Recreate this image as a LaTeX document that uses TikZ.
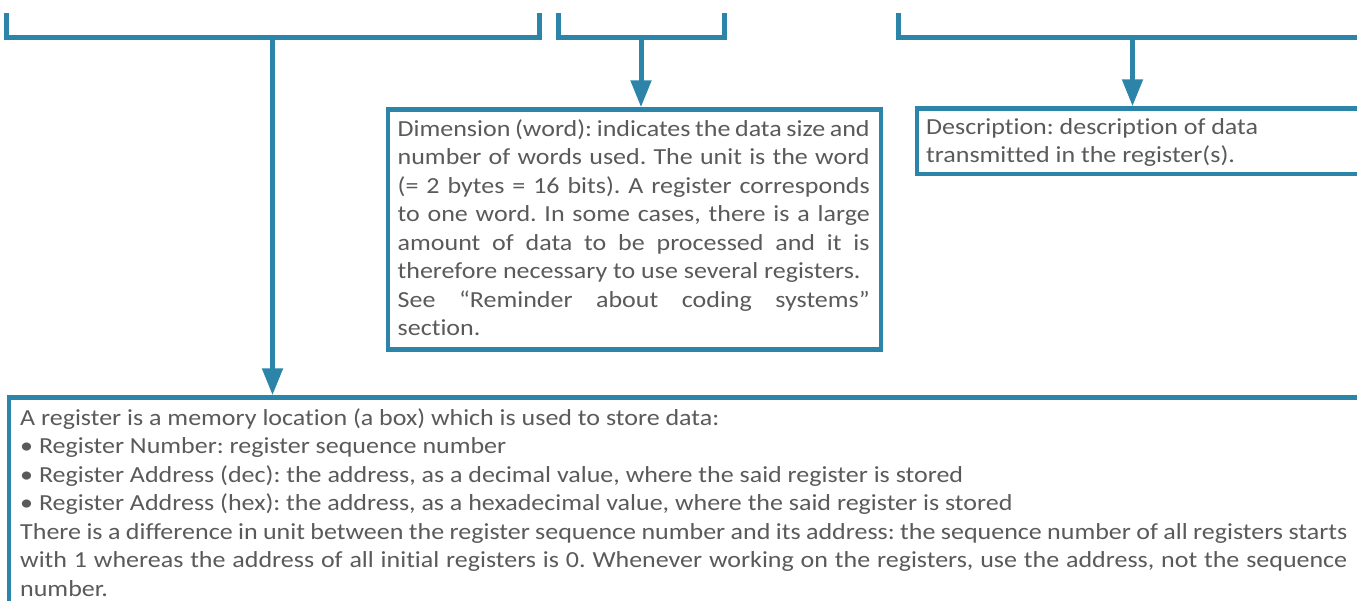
\documentclass[tikz,border=0pt]{standalone}
\usepackage{fontspec}
\setmainfont[FakeStretch=1.13,Ligatures=NoCommon]{Carlito}
\usetikzlibrary{arrows.meta}
\definecolor{lineblue}{HTML}{2C84A9}
\definecolor{txtgray}{HTML}{5A5A5C}
\begin{document}
\frenchspacing
\begin{tikzpicture}[x=1pt,y=-1pt,
  bracket/.style={draw=lineblue,line width=5pt},
  arr/.style={draw=lineblue,line width=5pt,-{Triangle[width=20pt,length=27pt]}},
  box/.style={draw=lineblue,line width=4.5pt,inner sep=0pt,anchor=north west},
  txt/.style={text=txtgray,inner sep=0pt,anchor=base west,font=\fontsize{23}{28.5}\selectfont\frenchspacing}]
\useasboundingbox (0,0) rectangle (1357,600);
\fill[white] (0,0) rectangle (1357,600);
\clip (0,0) rectangle (1357,600);

% brackets
\coordinate (b1l) at (6,13);
\coordinate (b1r) at (539,13);
\coordinate (b1) at (272.5,37);
\coordinate (b2l) at (558,13);
\coordinate (b2r) at (724.5,13);
\coordinate (b2) at (641,37);
\coordinate (b3l) at (898,13);
\coordinate (b3r) at (1365,37);
\coordinate (b3) at (1132.5,37);
\draw[bracket] (b1l) |- (b1r |- b1) -- (b1r);
\draw[bracket] (b2l) |- (b2r |- b2) -- (b2r);
\draw[bracket] (b3l) |- (b3r);

% boxes
\node[box,minimum width=493pt,minimum height=240pt] (dim) at (385.75,107.25) {};
\node[box,minimum width=500pt,minimum height=65.5pt] (desc) at (914.75,106.25) {};
\node[box,minimum width=1400pt,minimum height=300pt] (reg) at (6.75,395.25) {};

% texts
\node[txt] (dimtext) at (397.5,136) {\parbox[t]{472pt}{Dimension (word): indicates the data size and\linebreak
number of words used. The unit is the word\linebreak
(= 2 bytes = 16 bits). A register corresponds\linebreak
to one word. In some cases, there is a large\linebreak
amount of data to be processed and it is\linebreak
therefore necessary to use several registers.\newline
See “Reminder about coding systems”\linebreak
section.}};
\node[txt] (desctext) at (926,134) {\parbox[t]{420pt}{\raggedright Description: description of data\\
transmitted in the register(s).}};
\node[txt] (regtext) at (20,425) {\parbox[t]{1327pt}{A register is a memory location (a box) which is used to store data:\par
• Register Number: register sequence number\par
• Register Address (dec): the address, as a decimal value, where the said register is stored\par
• Register Address (hex): the address, as a hexadecimal value, where the said register is stored\par
There is a difference in unit between the register sequence number and its address: the sequence number of all registers starts\linebreak
with 1 whereas the address of all initial registers is 0. Whenever working on the registers, use the address, not the sequence\linebreak
number.}};

% connectors
\draw[arr] (b1) -- (reg.north -| b1);
\draw[arr] (b2) -- (dim.north -| b2);
\draw[arr] (b3) -- (desc.north -| b3);
\end{tikzpicture}
\end{document}
